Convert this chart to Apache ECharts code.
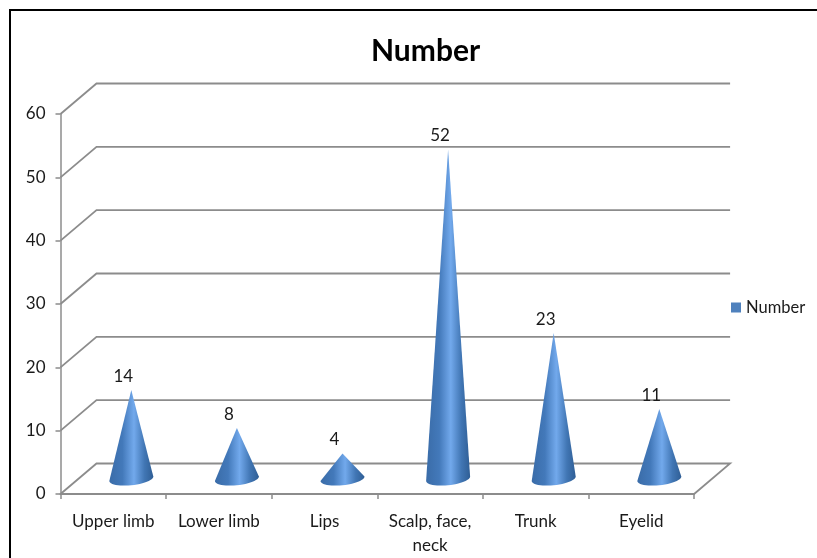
<!DOCTYPE html>
<html>
<head>
<meta charset="utf-8">
<title>Number</title>
<style>
html, body { margin: 0; padding: 0; background: #fff; }
#chart { width: 817px; height: 558px; }
</style>
<script src="https://cdn.jsdelivr.net/npm/echarts@6/dist/echarts.min.js"></script>
</head>
<body>
<div id="chart"></div>
<script>
var categories = ['Upper limb', 'Lower limb', 'Lips', 'Scalp, face,\nneck', 'Trunk', 'Eyelid'];
var numbers = [14, 8, 4, 52, 23, 11];
var yTicks = [0, 10, 20, 30, 40, 50, 60];

var fontName = 'Lato';
var lineColor = '#8c8c8c';
// perspective offset of the back wall, in px
var depthX = 36, depthY = -30.5;
var coneRx = 22, coneRy = 6.5, coneTilt = -0.1;

function renderWall(params, api) {
  var tick = api.value(0);
  var band = api.size([1, 0])[0];
  var left = api.coord([0, tick]);
  var right = api.coord([categories.length - 1, tick]);
  left = [left[0] - band / 2, left[1]];
  right = [right[0] + band / 2, right[1]];
  var points = [left, [left[0] + depthX, left[1] + depthY], [right[0] + depthX, right[1] + depthY]];
  if (tick === 0) {
    points.push(right);
  }
  return {
    type: 'polyline',
    shape: { points: points },
    style: { fill: 'none', stroke: lineColor, lineWidth: 1.8 }
  };
}

function renderCone(params, api) {
  var i = api.value(0);
  var base = api.coord([i, 0]);
  var tip = api.coord([i, api.value(1)]);
  var cx = base[0] + depthX / 2, cy = base[1] + depthY / 2;
  var tx = tip[0] + depthX / 2, ty = tip[1] + depthY / 2;
  var points = [[tx, ty]];
  for (var a = 0; a <= 24; a++) {
    var dx = coneRx * Math.cos(a / 24 * Math.PI);
    var dy = coneRy * Math.sin(a / 24 * Math.PI);
    points.push([cx + dx, cy + dy + dx * coneTilt]);
  }
  return {
    type: 'group',
    children: [{
      type: 'polygon',
      shape: { points: points },
      style: {
        fill: new echarts.graphic.LinearGradient(0, 0, 1, 0, [
          { offset: 0, color: '#3a6ca8' },
          { offset: 0.3, color: '#4379ba' },
          { offset: 0.56, color: '#72a9ec' },
          { offset: 0.8, color: '#4176b4' },
          { offset: 1, color: '#2f5e95' }
        ])
      }
    }, {
      type: 'text',
      style: {
        text: String(api.value(1)),
        x: tip[0] + 10,
        y: ty - 14,
        align: 'center',
        verticalAlign: 'middle',
        font: '17px ' + fontName,
        fill: '#1a1a1a'
      }
    }]
  };
}

var myChart = echarts.init(document.getElementById('chart'));
var option = {
  animation: false,
  backgroundColor: '#fff',
  title: {
    text: 'Number',
    left: 366,
    top: 31,
    textStyle: { color: '#000', fontSize: 30, fontWeight: 'bold', fontFamily: fontName }
  },
  legend: {
    show: true,
    data: ['Number'],
    left: 726,
    top: 294,
    icon: 'rect',
    itemWidth: 10,
    itemHeight: 10,
    itemGap: 4,
    textStyle: { color: '#1a1a1a', fontSize: 16.5, fontFamily: fontName }
  },
  grid: { left: 60.5, top: 114, width: 633.6, height: 380 },
  xAxis: {
    type: 'category',
    data: categories,
    axisLine: { lineStyle: { color: lineColor, width: 2 } },
    axisTick: { show: true, length: 5, lineStyle: { color: lineColor, width: 1.5 } },
    axisLabel: { color: '#1a1a1a', fontSize: 17, fontFamily: fontName, margin: 16, lineHeight: 24, interval: 0 },
    splitLine: { show: false }
  },
  yAxis: {
    type: 'value',
    min: 0,
    max: 60,
    interval: 10,
    axisLine: { show: true, lineStyle: { color: lineColor, width: 1.5 } },
    axisTick: { show: true, length: 5, lineStyle: { color: lineColor, width: 1.5 } },
    axisLabel: { color: '#1a1a1a', fontSize: 17, fontFamily: fontName, margin: 15, padding: [3, 0, 0, 0] },
    splitLine: { show: false }
  },
  graphic: [
    { type: 'line', shape: { x1: 10, y1: 10, x2: 817, y2: 10 }, style: { stroke: '#000', lineWidth: 2 } },
    { type: 'line', shape: { x1: 10, y1: 9, x2: 10, y2: 558 }, style: { stroke: '#000', lineWidth: 2 } }
  ],
  series: [
    {
      name: 'wall',
      type: 'custom',
      silent: true,
      z: 1,
      renderItem: renderWall,
      encode: { y: 0 },
      data: yTicks.map(function (t) { return [t]; })
    },
    {
      name: 'Number',
      type: 'custom',
      z: 3,
      itemStyle: { color: '#4f81bd' },
      renderItem: renderCone,
      encode: { x: 0, y: 1 },
      data: numbers.map(function (v, i) { return [i, v]; })
    }
  ]
};
myChart.setOption(option, true);
</script>
</body>
</html>
